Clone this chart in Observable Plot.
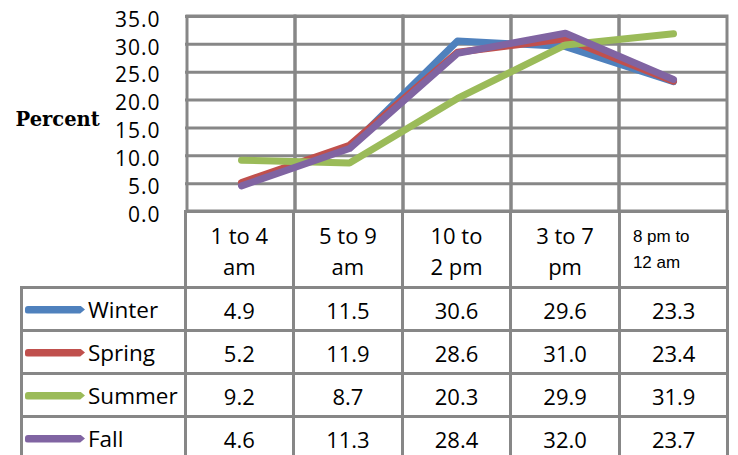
<!DOCTYPE html>
<html>
<head>
<meta charset="utf-8">
<script src="https://cdn.jsdelivr.net/npm/d3@7"></script>
<script src="https://cdn.jsdelivr.net/npm/@observablehq/plot@0.6"></script>
<style>
  html, body { margin: 0; padding: 0; background: #fff; }
  #wrap { position: relative; width: 738px; height: 455px; overflow: hidden; background: #fff; }
  #wrap svg { position: absolute; left: 0; top: 0; overflow: visible; z-index: 2; }
  .dt {
    position: absolute; left: 19.5px; top: 209.5px; z-index: 1;
    display: grid;
    grid-template-columns: 161px repeat(5, 105.6px);
    grid-template-rows: 73px repeat(4, 40px);
    gap: 3px; padding: 3px;
    background: #878787;
    font-family: "Open Sans", sans-serif; font-size: 22px; color: #000;
  }
  .dt > div { background: #fff; display: flex; align-items: center; }
  .dt .blank { margin: -3px 0 0 -3px; }
  .dt .hd, .dt .val { justify-content: center; text-align: center; }
  .dt .val { padding-top: 2px; }
  .dt .hd { white-space: pre-line; line-height: 31px; padding-top: 4px; }
  .dt .hd.small { justify-content: flex-start; text-align: left; padding-left: 12px; padding-top: 2px;
    font-family: "Liberation Sans", Arial, sans-serif; font-size: 17px; line-height: 26px; }
  .dt .key { padding-left: 2.5px; padding-top: 2px; font-size: 22.5px; }
  .dt .swatch { display: inline-block; width: 60px; height: 8px; margin-right: 3px; border-radius: 3px 0 0 3px;
    clip-path: polygon(0 0, 92% 0, 100% 50%, 92% 100%, 0 100%); }
</style>
</head>
<body>
<div id="wrap"></div>
<script>
// Time-of-day periods (table columns) and their two-line header text
const periods = ["1 to 4 am", "5 to 9 am", "10 to 2 pm", "3 to 7 pm", "8 pm to 12 am"];
const periodHeaders = ["1 to 4\nam", "5 to 9\nam", "10 to\n2 pm", "3 to 7\npm", "8 pm to\n12 am"];

// Seasons (series) and their line colours
const seasons = ["Winter", "Spring", "Summer", "Fall"];
const seasonColors = ["#4F81BD", "#C0504D", "#9BBB59", "#8064A2"];

// Percent of activity per period, one array per season
const winter = [4.9, 11.5, 30.6, 29.6, 23.3];
const spring = [5.2, 11.9, 28.6, 31.0, 23.4];
const summer = [9.2, 8.7, 20.3, 29.9, 31.9];
const fall   = [4.6, 11.3, 28.4, 32.0, 23.7];

// Y axis tick values
const yTicks = [0, 5, 10, 15, 20, 25, 30, 35];

const seriesValues = [winter, spring, summer, fall];
const rows = seasons.flatMap((season, i) =>
  seriesValues[i].map((value, j) => ({season, period: periods[j], value}))
);

const gridColor = "#878787";

const chart = Plot.plot({
  width: 738,
  height: 213,
  marginLeft: 185,
  marginRight: 10,
  marginTop: 16,
  marginBottom: 2,
  style: {fontFamily: "'Open Sans', sans-serif", fontSize: "21px", color: "#000", background: "transparent"},
  x: {type: "band", domain: periods, padding: 0, axis: null},
  y: {domain: [0, 35], axis: null},
  color: {domain: seasons, range: seasonColors},
  marks: [
    Plot.gridY(yTicks, {stroke: gridColor, strokeOpacity: 1, strokeWidth: 3}),
    // column boundaries of the data table, carried up through the plot
    Plot.barY(periods, {x: d => d, y1: 0, y2: 35, fill: "none", stroke: gridColor, strokeWidth: 3}),
    Plot.axisY(yTicks, {tickSize: 0, tickPadding: 25, dy: 3.5, label: null, tickFormat: d => d.toFixed(1)}),
    Plot.line(rows, {x: "period", y: "value", z: "season", stroke: "season",
      strokeWidth: 7, strokeLinejoin: "round", strokeLinecap: "round"}),
    Plot.text(["Percent"], {frameAnchor: "left", dx: -170, dy: 5.3, textAnchor: "start",
      fontFamily: "'DejaVu Serif', serif", fontWeight: "bold", fontSize: 19.5})
  ]
});

d3.select(chart).selectAll("g[aria-label='y-axis tick label'] text").style("letter-spacing", "1px");

const wrap = d3.select("#wrap");
wrap.node().appendChild(chart);

// Data table under the plot
const table = wrap.append("div").attr("class", "dt");
table.append("div").attr("class", "blank");
periodHeaders.forEach((h, i) => {
  table.append("div").attr("class", i === periodHeaders.length - 1 ? "hd small" : "hd").text(h);
});
seasons.forEach((season, i) => {
  const key = table.append("div").attr("class", "key");
  key.append("span").attr("class", "swatch").style("background", seasonColors[i]);
  key.append("span").text(season);
  seriesValues[i].forEach(v => table.append("div").attr("class", "val").text(v.toFixed(1)));
});
</script>
</body>
</html>
